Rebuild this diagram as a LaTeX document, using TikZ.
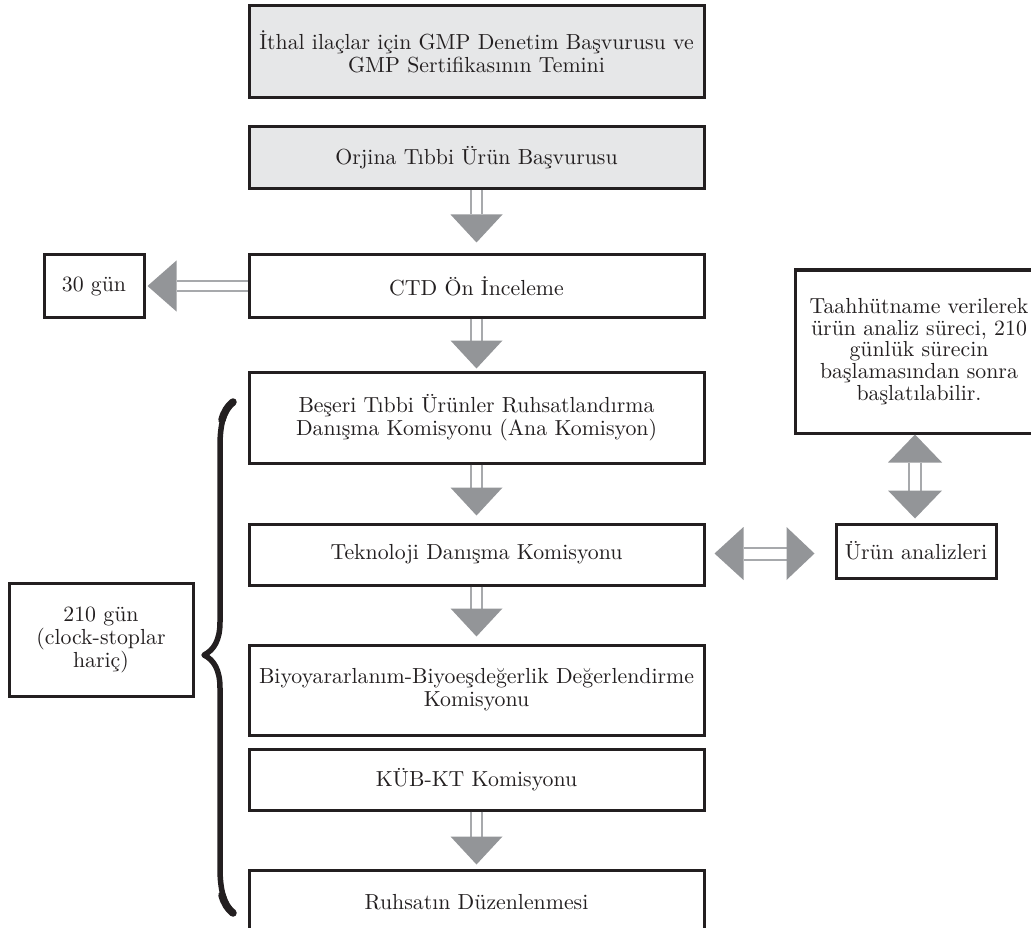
\documentclass[tikz,border=0pt]{standalone}
\usepackage{fontspec}
\setmainfont{lmroman10-regular.otf}
\usetikzlibrary{calc}
\definecolor{ink}{HTML}{231F20}
\definecolor{boxgray}{HTML}{E6E7E8}
\definecolor{headgray}{HTML}{939598}
\definecolor{shaftgray}{HTML}{A7A9AC}
\tikzset{
  box/.style={draw=ink, line width=3pt, fill=white, rectangle, inner sep=0pt,
    align=center, text=ink, font=\fontsize{21.8}{23}\selectfont, minimum width=#1},
  graybox/.style={box=#1, fill=boxgray},
  shaftline/.style={draw=shaftgray, line width=2pt},
  headfill/.style={fill=headgray},
  bracestroke/.style={draw=ink, line width=5.5pt, line cap=round, line join=round}
}
\newcommand{\ArrDown}[2]{%
  \draw[shaftline] ($(#1)+(-5.5,0)$) -- ($(#2)+(-5.5,-28)$);
  \draw[shaftline] ($(#1)+(5.5,0)$) -- ($(#2)+(5.5,-28)$);
  \fill[headfill] (#2) -- ($(#2)+(-26,-28)$) -- ($(#2)+(26,-28)$) -- cycle;}
\newcommand{\ArrLeft}[2]{%
  \draw[shaftline] ($(#1)+(0,-5)$) -- ($(#2)+(29,-5)$);
  \draw[shaftline] ($(#1)+(0,5)$) -- ($(#2)+(29,5)$);
  \fill[headfill] (#2) -- ($(#2)+(29,-25.5)$) -- ($(#2)+(29,25.5)$) -- cycle;}
\newcommand{\ArrHBoth}[2]{%
  \draw[shaftline] ($(#1)+(29,-6)$) -- ($(#2)+(-28,-6)$);
  \draw[shaftline] ($(#1)+(29,6)$) -- ($(#2)+(-28,6)$);
  \fill[headfill] (#1) -- ($(#1)+(29,-26.5)$) -- ($(#1)+(29,26.5)$) -- cycle;
  \fill[headfill] (#2) -- ($(#2)+(-28,-26.5)$) -- ($(#2)+(-28,26.5)$) -- cycle;}
\newcommand{\ArrVBoth}[2]{%
  \draw[shaftline] ($(#1)+(-6,28)$) -- ($(#2)+(-6,-28)$);
  \draw[shaftline] ($(#1)+(6,28)$) -- ($(#2)+(6,-28)$);
  \fill[headfill] (#1) -- ($(#1)+(-27,28)$) -- ($(#1)+(27,28)$) -- cycle;
  \fill[headfill] (#2) -- ($(#2)+(-27,-28)$) -- ($(#2)+(27,-28)$) -- cycle;}
\begin{document}
\begin{tikzpicture}[x=1pt,y=-1pt]
\useasboundingbox (0,0) rectangle (1031,928);
% main column
\node[graybox=455, minimum height=92] (gmp) at (476.5,52)
  {İthal ilaçlar için GMP Denetim Başvurusu ve\\GMP Sertifikasının Temini};
\node[graybox=455, minimum height=62] (orj) at (476.5,158) {Orjina Tıbbi Ürün Başvurusu};
\node[box=455, minimum height=62] (ctd) at (476.5,286) {CTD Ön İnceleme};
\node[box=455, minimum height=91] (bes) at (476.5,417.5)
  {Beşeri Tıbbi Ürünler Ruhsatlandırma\\Danışma Komisyonu (Ana Komisyon)};
\node[box=455, minimum height=61] (tek) at (476.5,554.5) {Teknoloji Danışma Komisyonu};
\node[box=455, minimum height=90] (biy) at (476.5,690)
  {Biyoyararlanım-Biyoeşdeğerlik Değerlendirme\\Komisyonu};
\node[box=455, minimum height=61] (kub) at (476.5,779.5) {KÜB-KT Komisyonu};
\node[box=455, minimum height=64] (ruh) at (476.5,902) {Ruhsatın Düzenlenmesi};
% side boxes
\node[box=100, minimum height=62] (gun) at (94,286) {30 gün};
\node[box=184, minimum height=113] (sure) at (101,639.5) {210 gün\\(clock-stoplar\\hariç)};
\node[box=248, minimum height=163, font=\fontsize{21.8}{21.7}\selectfont] (taah) at (919,351.5)
  {Taahhütname verilerek\\ürün analiz süreci, 210\\günlük sürecin\\başlamasından sonra\\başlatılabilir.};
\node[box=160, minimum height=54] (urun) at (916,551) {Ürün analizleri};
% tips
\coordinate (t1) at ($(ctd.north)+(0,-11)$);
\coordinate (t2) at ($(bes.north)+(0,-2)$);
\coordinate (t3) at ($(tek.north)+(0,-7)$);
\coordinate (t4) at ($(biy.north)+(0,-7)$);
\coordinate (t5) at ($(ruh.north)+(0,-4)$);
\coordinate (tl) at ($(gun.east)+(2,0)$);
\coordinate (hl) at ($(tek.east)+(9,-1)$);
\coordinate (hr) at ($(tek.east -| urun.west)+(-20,-1)$);
\coordinate (vt) at ($(taah.south -| urun.north)+(-1,0)$);
\coordinate (vb) at ($(urun.north)+(-1,-4)$);
% arrows
\ArrDown{orj.south}{t1}
\ArrDown{ctd.south}{t2}
\ArrDown{bes.south}{t3}
\ArrDown{tek.south}{t4}
\ArrDown{kub.south}{t5}
\ArrLeft{ctd.west}{tl}
\ArrHBoth{hl}{hr}
\ArrVBoth{vt}{vb}
% brace
\coordinate (bt) at (233,402);
\coordinate (bc) at (204,655);
\coordinate (bb) at (233,913);
\draw[bracestroke] (bt) .. controls (224,410) and (220,424) .. (220,446)
  -- (220,622) .. controls (220,640) and (214,650) .. (bc)
  .. controls (214,660) and (220,670) .. (220,688)
  -- (220,868) .. controls (220,890) and (224,904) .. (bb);
\draw[draw=ink, line width=7.5pt, line cap=round] (bt) .. controls (228,406) and (224,412) .. (222,420);
\draw[draw=ink, line width=7.5pt, line cap=round] (bb) .. controls (228,909) and (224,903) .. (222,895);
\end{tikzpicture}
\end{document}
